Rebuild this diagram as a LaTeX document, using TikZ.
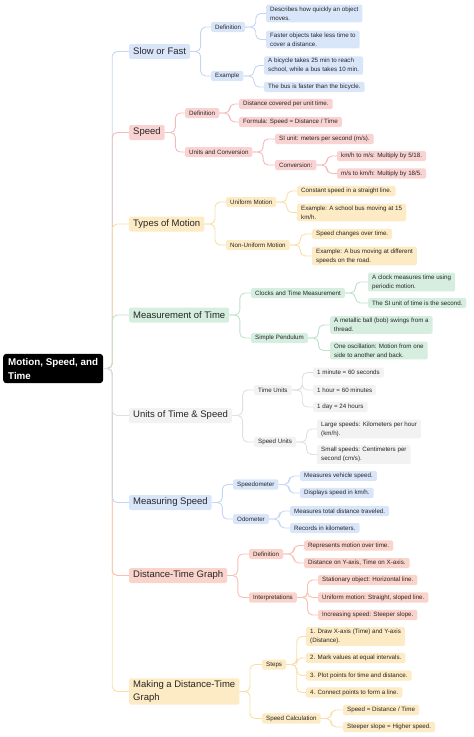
\documentclass[tikz,border=0pt]{standalone}
\usepackage{fontspec}
\setmainfont{Liberation Sans}
\usepackage{tikz}
\usetikzlibrary{positioning}

\definecolor{bluF}{HTML}{D9E6FA}
\definecolor{bluL}{HTML}{C4D6F2}
\definecolor{redF}{HTML}{F9D2D2}
\definecolor{redL}{HTML}{F3BCBC}
\definecolor{yelF}{HTML}{FCEBC4}
\definecolor{yelL}{HTML}{F8DFA6}
\definecolor{grnF}{HTML}{D5EEDF}
\definecolor{grnL}{HTML}{BDE2CB}
\definecolor{gryF}{HTML}{F2F2F2}
\definecolor{gryL}{HTML}{E0E0E0}
\definecolor{salF}{HTML}{FAD3CB}
\definecolor{salL}{HTML}{F6C0B2}
\definecolor{ink}{HTML}{262626}

\tikzset{
  box/.style={anchor=west, text=ink, rounded corners=1.5pt, inner xsep=4pt, inner ysep=2.2pt, align=left},
  root/.style={anchor=west, fill=black, text=white, font=\fontsize{9.8}{14}\selectfont\bfseries,
    rounded corners=3pt, inner xsep=5pt, inner ysep=4pt, align=left},
  topic/.style={box, font=\fontsize{9.5}{12.5}\selectfont, minimum height=15pt, inner ysep=2.5pt},
  sub/.style={box, font=\fontsize{6.2}{8.8}\selectfont, minimum height=10pt},
  link/.style={line width=0.9pt, rounded corners=5pt},
}

\begin{document}
\begin{tikzpicture}[x=1pt,y=-1pt]
\useasboundingbox (0,0) rectangle (474,737);

\node[root] (root) at (3,368.5) {Motion, Speed, and\\Time};

% Slow or Fast
\node[topic,fill=bluF] (sf) at (129,51.5) {Slow or Fast};
\node[sub,fill=bluF] (sfdef) at (211,27) {Definition};
\node[sub,fill=bluF] (sfdef1) at (266,13.5) {Describes how quickly an object\\moves.};
\node[sub,fill=bluF] (sfdef2) at (266,39.5) {Faster objects take less time to\\cover a distance.};
\node[sub,fill=bluF] (sfex) at (211,76) {Example};
\node[sub,fill=bluF] (sfex1) at (264,65.5) {A bicycle takes 25 min to reach\\school, while a bus takes 10 min.};
\node[sub,fill=bluF] (sfex2) at (264,87) {The bus is faster than the bicycle.};

% Speed
\node[topic,fill=redF] (sp) at (129,132.5) {Speed};
\node[sub,fill=redF] (spdef) at (185,113) {Definition};
\node[sub,fill=redF] (spdef1) at (239,104) {Distance covered per unit time.};
\node[sub,fill=redF] (spdef2) at (239,122) {Formula: Speed = Distance / Time};
\node[sub,fill=redF] (spun) at (185,152) {Units and Conversion};
\node[sub,fill=redF] (spun1) at (275,139) {SI unit: meters per second (m/s).};
\node[sub,fill=redF] (spcv) at (275,165) {Conversion:};
\node[sub,fill=redF] (spcv1) at (337,156) {km/h to m/s: Multiply by 5/18.};
\node[sub,fill=redF] (spcv2) at (337,173.5) {m/s to km/h: Multiply by 18/5.};

% Types of Motion
\node[topic,fill=yelF] (tm) at (129,224) {Types of Motion};
\node[sub,fill=yelF] (tmu) at (226,202) {Uniform Motion};
\node[sub,fill=yelF] (tmu1) at (297,191) {Constant speed in a straight line.};
\node[sub,fill=yelF] (tmu2) at (297,212.5) {Example: A school bus moving at 15\\km/h.};
\node[sub,fill=yelF] (tmn) at (226,245) {Non-Uniform Motion};
\node[sub,fill=yelF] (tmn1) at (312,234) {Speed changes over time.};
\node[sub,fill=yelF] (tmn2) at (312,256) {Example: A bus moving at different\\speeds on the road.};

% Measurement of Time
\node[topic,fill=grnF] (mt) at (129,315) {Measurement of Time};
\node[sub,fill=grnF] (mtc) at (251,293) {Clocks and Time Measurement};
\node[sub,fill=grnF] (mtc1) at (368,282) {A clock measures time using\\periodic motion.};
\node[sub,fill=grnF] (mtc2) at (368,303) {The SI unit of time is the second.};
\node[sub,fill=grnF] (mtp) at (251,338) {Simple Pendulum};
\node[sub,fill=grnF] (mtp1) at (330,325) {A metallic ball (bob) swings from a\\thread.};
\node[sub,fill=grnF] (mtp2) at (330,350.5) {One oscillation: Motion from one\\side to another and back.};

% Units of Time & Speed
\node[topic,fill=gryF] (un) at (129,415.5) {Units of Time \& Speed};
\node[sub,fill=gryF] (unt) at (254,390) {Time Units};
\node[sub,fill=gryF] (unt1) at (313,372.5) {1 minute = 60 seconds};
\node[sub,fill=gryF] (unt2) at (313,390) {1 hour = 60 minutes};
\node[sub,fill=gryF] (unt3) at (313,407) {1 day = 24 hours};
\node[sub,fill=gryF] (uns) at (254,442) {Speed Units};
\node[sub,fill=gryF] (uns1) at (317,429) {Large speeds: Kilometers per hour\\(km/h).};
\node[sub,fill=gryF] (uns2) at (317,454.5) {Small speeds: Centimeters per\\second (cm/s).};

% Measuring Speed
\node[topic,fill=bluF] (ms) at (129,502.5) {Measuring Speed};
\node[sub,fill=bluF] (mss) at (233,484.5) {Speedometer};
\node[sub,fill=bluF] (mss1) at (300,476) {Measures vehicle speed.};
\node[sub,fill=bluF] (mss2) at (300,493) {Displays speed in km/h.};
\node[sub,fill=bluF] (mso) at (233,519) {Odometer};
\node[sub,fill=bluF] (mso1) at (290,511) {Measures total distance traveled.};
\node[sub,fill=bluF] (mso2) at (290,528) {Records in kilometers.};

% Distance-Time Graph
\node[topic,fill=salF] (dt) at (129,575.5) {Distance-Time Graph};
\node[sub,fill=salF] (dtd) at (249,554) {Definition};
\node[sub,fill=salF] (dtd1) at (304,545.5) {Represents motion over time.};
\node[sub,fill=salF] (dtd2) at (304,563) {Distance on Y-axis, Time on X-axis.};
\node[sub,fill=salF] (dti) at (249,597.5) {Interpretations};
\node[sub,fill=salF] (dti1) at (318,580) {Stationary object: Horizontal line.};
\node[sub,fill=salF] (dti2) at (318,597.5) {Uniform motion: Straight, sloped line.};
\node[sub,fill=salF] (dti3) at (318,615) {Increasing speed: Steeper slope.};

% Making a Distance-Time Graph
\node[topic,fill=yelF] (mk) at (129,691.5) {Making a Distance-Time\\Graph};
\node[sub,fill=yelF] (mks) at (262,664.5) {Steps};
\node[sub,fill=yelF] (mks1) at (306,636.5) {1. Draw X-axis (Time) and Y-axis\\(Distance).};
\node[sub,fill=yelF] (mks2) at (306,658) {2. Mark values at equal intervals.};
\node[sub,fill=yelF] (mks3) at (306,675.5) {3. Plot points for time and distance.};
\node[sub,fill=yelF] (mks4) at (306,692.5) {4. Connect points to form a line.};
\node[sub,fill=yelF] (mkc) at (262,718.5) {Speed Calculation};
\node[sub,fill=yelF] (mkc1) at (343,710) {Speed = Distance / Time};
\node[sub,fill=yelF] (mkc2) at (343,727) {Steeper slope = Higher speed.};

% branches from the root
\foreach \t/\c in {sf/bluL,sp/redL,tm/yelL,mt/grnL,mk/yelL,dt/salL,ms/bluL,un/gryL}
  \draw[link,\c] (root.east) -- ++(9,0) |- (\t.west);

% second and third level
\foreach \c in {sfdef,sfex} \draw[link,bluL] (sf.east) -- ++(10.5,0) |- (\c.west);
\foreach \c in {sfdef1,sfdef2} \draw[link,bluL] (sfdef.east) -- ++(10.5,0) |- (\c.west);
\foreach \c in {sfex1,sfex2} \draw[link,bluL] (sfex.east) -- ++(10.5,0) |- (\c.west);

\foreach \c in {spdef,spun} \draw[link,redL] (sp.east) -- ++(10.5,0) |- (\c.west);
\foreach \c in {spdef1,spdef2} \draw[link,redL] (spdef.east) -- ++(10.5,0) |- (\c.west);
\foreach \c in {spun1,spcv} \draw[link,redL] (spun.east) -- ++(10.5,0) |- (\c.west);
\foreach \c in {spcv1,spcv2} \draw[link,redL] (spcv.east) -- ++(10.5,0) |- (\c.west);

\foreach \c in {tmu,tmn} \draw[link,yelL] (tm.east) -- ++(10.5,0) |- (\c.west);
\foreach \c in {tmu1,tmu2} \draw[link,yelL] (tmu.east) -- ++(10.5,0) |- (\c.west);
\foreach \c in {tmn1,tmn2} \draw[link,yelL] (tmn.east) -- ++(10.5,0) |- (\c.west);

\foreach \c in {mtc,mtp} \draw[link,grnL] (mt.east) -- ++(10.5,0) |- (\c.west);
\foreach \c in {mtc1,mtc2} \draw[link,grnL] (mtc.east) -- ++(10.5,0) |- (\c.west);
\foreach \c in {mtp1,mtp2} \draw[link,grnL] (mtp.east) -- ++(10.5,0) |- (\c.west);

\foreach \c in {unt,uns} \draw[link,gryL] (un.east) -- ++(10.5,0) |- (\c.west);
\foreach \c in {unt1,unt2,unt3} \draw[link,gryL] (unt.east) -- ++(10.5,0) |- (\c.west);
\foreach \c in {uns1,uns2} \draw[link,gryL] (uns.east) -- ++(10.5,0) |- (\c.west);

\foreach \c in {mss,mso} \draw[link,bluL] (ms.east) -- ++(10.5,0) |- (\c.west);
\foreach \c in {mss1,mss2} \draw[link,bluL] (mss.east) -- ++(10.5,0) |- (\c.west);
\foreach \c in {mso1,mso2} \draw[link,bluL] (mso.east) -- ++(10.5,0) |- (\c.west);

\foreach \c in {dtd,dti} \draw[link,salL] (dt.east) -- ++(10.5,0) |- (\c.west);
\foreach \c in {dtd1,dtd2} \draw[link,salL] (dtd.east) -- ++(10.5,0) |- (\c.west);
\foreach \c in {dti1,dti2,dti3} \draw[link,salL] (dti.east) -- ++(10.5,0) |- (\c.west);

\foreach \c in {mks,mkc} \draw[link,yelL] (mk.east) -- ++(10.5,0) |- (\c.west);
\foreach \c in {mks1,mks2,mks3,mks4} \draw[link,yelL] (mks.east) -- ++(10.5,0) |- (\c.west);
\foreach \c in {mkc1,mkc2} \draw[link,yelL] (mkc.east) -- ++(10.5,0) |- (\c.west);
\end{tikzpicture}
\end{document}
